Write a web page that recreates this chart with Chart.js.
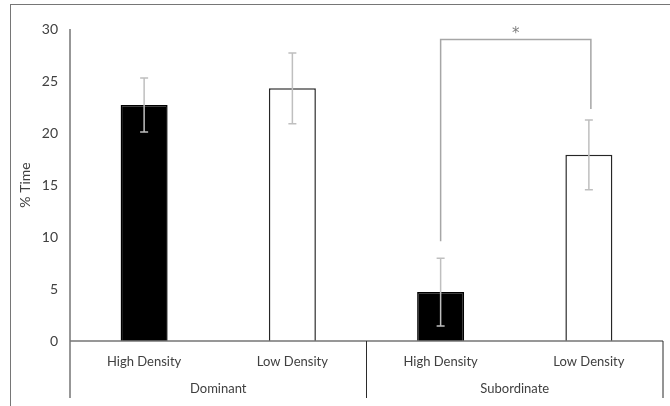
<!DOCTYPE html>
<html lang="en">
<head>
    <meta charset="UTF-8">
    <title>% Time by Density</title>
    <script src="https://cdn.jsdelivr.net/npm/chart.js@4.4.1/dist/chart.umd.min.js"></script>
</head>
<style>
    body {
        margin: 0;
        background-color: #ffffff;
        overflow: hidden;
    }

    .frame {
        position: absolute;
        left: 10px;
        top: 4px;
        width: 700px;
        height: 450px;
        border: 1px solid #767676;
    }

    .container {
        position: absolute;
        left: 0;
        top: 0;
        width: 670px;
        height: 406px;
    }
</style>
<body>
    <div class="frame"></div>
    <div class="container">
        <canvas id="timeChart"></canvas>
    </div>

    <script>
        const categories = ['High Density', 'Low Density', 'High Density', 'Low Density'];
        const groups = ['Dominant', 'Subordinate'];
        const values = [22.7, 24.3, 4.7, 17.9];
        const errors = [2.6, 3.4, 3.25, 3.35];
        const yTicks = [0, 5, 10, 15, 20, 25, 30];

        // significance bracket between the two subordinate bars
        const sigPair = [2, 3];
        const sigLevel = 29;
        const sigEnds = [9.6, 22.3];
        const sigLabel = '*';

        const fillColors = ['#000000', '#ffffff', '#000000', '#ffffff'];
        const edgeColors = ['#000000', '#262626', '#000000', '#262626'];

        const extras = {
            id: 'extras',
            afterDatasetsDraw(chart) {
                const ctx = chart.ctx;
                const x = chart.scales.x;
                const y = chart.scales.y;
                const area = chart.chartArea;
                const lowEnd = x.bottom - 8;

                ctx.save();

                // error bars
                ctx.strokeStyle = '#bfbfbf';
                ctx.lineWidth = 1.5;
                values.forEach((v, i) => {
                    const cx = x.getPixelForValue(i);
                    const hi = y.getPixelForValue(v + errors[i]);
                    const lo = y.getPixelForValue(v - errors[i]);
                    ctx.beginPath();
                    ctx.moveTo(cx, hi);
                    ctx.lineTo(cx, lo);
                    ctx.moveTo(cx - 4, hi);
                    ctx.lineTo(cx + 4, hi);
                    ctx.moveTo(cx - 4, lo);
                    ctx.lineTo(cx + 4, lo);
                    ctx.stroke();
                });

                // significance bracket
                const bx1 = x.getPixelForValue(sigPair[0]);
                const bx2 = x.getPixelForValue(sigPair[1]) + 2;
                const by = y.getPixelForValue(sigLevel);
                ctx.strokeStyle = '#a6a6a6';
                ctx.beginPath();
                ctx.moveTo(bx1, y.getPixelForValue(sigEnds[0]));
                ctx.lineTo(bx1, by);
                ctx.lineTo(bx2, by);
                ctx.lineTo(bx2, y.getPixelForValue(sigEnds[1]));
                ctx.stroke();
                ctx.fillStyle = '#7f7f7f';
                ctx.font = '15px "DejaVu Sans"';
                ctx.textAlign = 'center';
                ctx.textBaseline = 'alphabetic';
                ctx.fillText(sigLabel, (bx1 + bx2) / 2, by - 1);

                // axis lines
                ctx.strokeStyle = '#767676';
                ctx.lineWidth = 1.5;
                ctx.beginPath();
                ctx.moveTo(area.left, area.top);
                ctx.lineTo(area.left, lowEnd);
                ctx.moveTo(area.left, area.bottom);
                ctx.lineTo(area.right, area.bottom);
                ctx.stroke();

                // group separators
                ctx.strokeStyle = '#2b2b2b';
                ctx.lineWidth = 1;
                const mid = (x.getPixelForValue(1) + x.getPixelForValue(2)) / 2;
                ctx.beginPath();
                ctx.moveTo(mid, area.bottom);
                ctx.lineTo(mid, lowEnd);
                ctx.moveTo(area.right, area.bottom);
                ctx.lineTo(area.right, lowEnd);
                ctx.stroke();

                // group labels
                ctx.fillStyle = '#404040';
                ctx.font = '13px Lato';
                ctx.textBaseline = 'middle';
                groups.forEach((g, k) => {
                    const gx = (x.getPixelForValue(k * 2) + x.getPixelForValue(k * 2 + 1)) / 2;
                    ctx.fillText(g, gx, area.bottom + 48);
                });

                ctx.restore();
            }
        };

        new Chart(document.getElementById('timeChart'), {
            type: 'bar',
            data: {
                labels: categories,
                datasets: [{
                    data: values,
                    backgroundColor: fillColors,
                    borderColor: edgeColors,
                    borderWidth: 1.5,
                    barPercentage: 0.317,
                    categoryPercentage: 1
                }]
            },
            options: {
                responsive: true,
                maintainAspectRatio: false,
                animation: false,
                devicePixelRatio: 1,
                layout: {
                    padding: { left: 0, right: 7, top: 29, bottom: 0 }
                },
                plugins: {
                    legend: { display: false },
                    tooltip: { enabled: false }
                },
                scales: {
                    x: {
                        grid: { display: false, drawTicks: false },
                        border: { display: false },
                        ticks: {
                            padding: 13,
                            maxRotation: 0,
                            autoSkip: false,
                            color: '#404040',
                            font: { family: 'Lato', size: 13 }
                        },
                        afterFit(scale) {
                            scale.height = 65;
                        }
                    },
                    y: {
                        min: 0,
                        max: 30,
                        afterBuildTicks(scale) {
                            scale.ticks = yTicks.map(v => ({ value: v }));
                        },
                        grid: { display: false, drawTicks: false },
                        border: { display: false },
                        ticks: {
                            padding: 12,
                            color: '#404040',
                            font: { family: 'Lato', size: 14 }
                        },
                        title: {
                            display: true,
                            text: '% Time',
                            color: '#404040',
                            font: { family: 'Lato', size: 14 },
                            padding: { top: 17, bottom: 0 }
                        },
                        afterFit(scale) {
                            scale.width = 70;
                        }
                    }
                }
            },
            plugins: [extras]
        });
    </script>
</body>
</html>
